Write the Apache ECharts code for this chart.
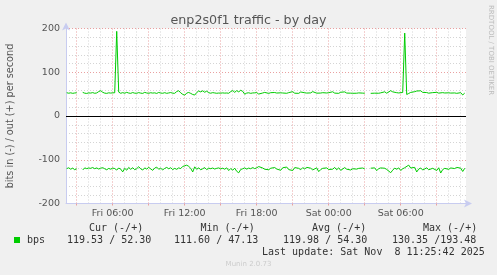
<!DOCTYPE html>
<html><head><meta charset="utf-8">
<script src="https://cdn.jsdelivr.net/npm/echarts@6/dist/echarts.min.js"></script>
<style>html,body{margin:0;padding:0;background:#f0f0f0}#c{width:497px;height:275px}</style>
</head><body><div id="c"></div>
<script>
// time in hours from Fri 00:00; samples every 10 minutes starting Fri 02:10
const startHour = 2 + 10/60;
const stepHour = 10/60;
const xMin = 2.108, xMax = 35.441;
const labelHours = [6, 12, 18, 24, 30];
const labelTexts = ['Fri 06:00', 'Fri 12:00', 'Fri 18:00', 'Sat 00:00', 'Sat 06:00'];
const majorHours = [3, 6, 9, 12, 15, 18, 21, 24, 27, 30, 33];
const minorHours = [4,5,7,8,10,11,13,14,16,17,19,20,22,23,25,26,28,29,31,32,34,35];

// out (+) bits per second
const outValues = [
 53.2, 52.1, 53.0, 51.8, 52.6, 53.1, null, null, 54.0, 52.2, 51.6, 52.8,
 52.4, 53.5, 51.9, 52.7, 55.8, 57.9, 54.2, 52.3, 51.7, 53.0, 52.4, 52.9,
 53.1, 193.48, 54.6, 51.9, 53.4, 52.0, 54.1, 52.5, 51.8, 53.6, 52.2, 51.9,
 53.5, 52.3, 51.7, 54.0, 52.6, 51.9, 53.2, 52.4, 52.9, 51.6, 53.8, 52.5,
 52.0, 53.3, 51.8, 52.7, 53.6, 52.1, 51.9, 55.9, 57.8, 53.0, 49.5, 47.6,
 52.4, 53.8, 51.7, 49.2, 47.9, 53.6, 57.2, 55.1, 57.6, 54.3, 56.8, 53.2,
 52.1, 53.4, 52.7, 51.9, 52.5, 52.2, 52.8, 52.3, 52.6, 52.0, 55.7, 58.2,
 54.1, 57.9, 55.2, 58.8, 56.3, 49.8, 52.4, 53.1, 51.8, 52.7, 52.9, 53.5,
 50.2, 47.3, 52.6, 53.9, 52.4, 51.7, 53.3, 52.0, 53.7, 52.5, 51.8, 53.0,
 52.6, 54.5, 51.9, 53.4, 52.3, 55.6, 52.1, 53.5, 51.8, 54.9, 52.7, 53.1,
 52.4, 54.1, 52.8, 55.7, 53.0, 52.2, 54.8, 52.5, 53.3, 51.9, 52.6, 53.2,
 52.7, 55.4, 52.3, 53.6, 51.8, 54.3, 52.9, 55.1, 52.4, 53.0, 52.2, 51.9,
 53.4, 52.1, 52.8, 53.5, 52.3, 52.0, null, null, 51.8, 52.4, 52.2, 52.6,
 52.0, 52.9, 53.4, 55.3, 52.1, 53.8, 57.9, 55.2, 52.4, 53.3, 52.7, 54.6,
 53.8, 189.5, 49.2, 51.5, 53.9, 52.4, 55.6, 57.1, 55.3, 57.6, 54.0, 56.9,
 53.6, 52.2, 55.5, 53.4, 52.0, 54.1, 52.3, 51.9, 53.4, 52.6, 52.1, 53.0,
 52.4, 53.1, 52.7, 51.8, 52.9, 53.3, 48.1, 52.30
];
// in (-) bits per second, drawn negated
const inValues = [
 -120.2, -118.4, -121.6, -119.1, -122.8, -120.5, null, null, -123.4, -118.6, -120.3, -118.9,
 -119.6, -117.8, -120.4, -118.7, -121.2, -119.3, -118.1, -120.6, -122.9, -119.8, -121.5, -119.2,
 -120.1, -123.6, -118.9, -121.4, -127.8, -119.5, -123.9, -117.6, -121.8, -118.2, -122.7, -120.4,
 -115.9, -120.8, -123.5, -118.6, -121.3, -117.4, -120.9, -124.2, -119.1, -116.8, -121.7, -119.4,
 -123.1, -119.8, -117.5, -120.6, -118.3, -122.4, -119.7, -121.9, -118.6, -120.2, -115.3, -113.8,
 -112.4, -115.1, -119.6, -127.9, -116.2, -121.8, -118.4, -123.1, -120.5, -117.9, -122.6, -119.3,
 -120.4, -118.9, -121.2, -119.6, -118.7, -120.8, -119.3, -121.6, -118.5, -124.7, -120.1, -123.8,
 -119.2, -126.4, -129.8, -122.3, -120.6, -118.7, -121.4, -119.1, -120.5, -117.8, -120.3, -118.4,
 -115.6, -111.6, -118.9, -121.7, -117.5, -122.8, -119.4, -123.6, -117.8, -121.2, -119.7, -124.1,
 -118.3, -121.9, -116.7, -122.5, -119.2, -124.6, -117.9, -121.3, -119.6, -122.8, -118.1, -120.9,
 -117.4, -121.6, -119.3, -123.2, -120.1, -118.5, -127.1, -122.4, -119.6, -121.8, -118.7, -122.3,
 -119.8, -121.5, -117.6, -122.9, -118.4, -124.3, -120.2, -117.9, -121.6, -119.1, -123.4, -120.5,
 -118.2, -121.4, -119.7, -122.6, -118.9, -120.8, null, null, -119.3, -121.1, -118.6, -124.9,
 -120.3, -118.7, -121.5, -119.4, -122.2, -117.9, -129.6, -123.8, -119.2, -121.7, -118.6, -124.4,
 -120.7, -118.2, -122.4, -112.3, -118.9, -121.6, -117.4, -127.9, -121.3, -118.8, -123.5, -120.6,
 -118.4, -122.9, -126.7, -119.5, -121.8, -124.6, -118.3, -130.35, -122.4, -119.7, -117.6, -121.9,
 -118.8, -122.3, -120.1, -117.5, -121.4, -119.2, -126.8, -119.53
];

// legend statistics [in, out]
const curStat = [119.53, 52.30];
const minStat = [111.60, 47.13];
const avgStat = [119.98, 54.30];
const maxStat = [130.35, 193.48];
const statHeaders = ['Cur (-/+)', 'Min (-/+)', 'Avg (-/+)', 'Max (-/+)'];
const seriesName = 'bps';
const lastUpdate = 'Last update: Sat Nov  8 11:25:42 2025';
const titleText = 'enp2s0f1 traffic - by day';
const yName = 'bits in (-) / out (+) per second';

const toPairs = arr => arr.map((v, i) => [startHour + i * stepHour, v]);
const fmt = p => p[0].toFixed(2).padStart(6) + ' /' + p[1].toFixed(2).padStart(6);

const RED = '#e9a0a0', GREY = '#d4d4d4', AX = '#c8ccf0', GREEN = '#00cc00';
const mono = 'DejaVu Sans Mono';
const txt = (x, y, s, extra) => Object.assign({
  type: 'text', x, y,
  style: Object.assign({ text: s, font: '10px "' + mono + '"', fill: '#333', textVerticalAlign: 'middle' }, extra || {})
});

const chart = echarts.init(document.getElementById('c'), null, { renderer: 'canvas' });
chart.setOption({
  animation: false,
  backgroundColor: '#f0f0f0',
  title: {
    text: titleText, left: 'center', top: 9,
    textStyle: { fontFamily: 'DejaVu Sans', fontSize: 12.7, fontWeight: 'normal', color: '#555' }
  },
  grid: { left: 66, top: 28.5, width: 400, height: 175, show: true, backgroundColor: '#fff', borderWidth: 0,
          containLabel: false, outerBoundsMode: 'none' },
  xAxis: [{
    type: 'value', min: xMin, max: xMax,
    axisLine: { show: true, onZero: false, lineStyle: { color: AX, width: 1 }, symbol: ['none', 'arrow'], symbolSize: [6, 8], symbolOffset: [0, 6] },
    axisTick: { show: true, length: 2, customValues: majorHours, lineStyle: { color: RED } },
    axisLabel: {
      customValues: labelHours, margin: 5, fontSize: 9.5, fontFamily: 'DejaVu Sans', color: '#555',
      formatter: v => labelTexts[labelHours.indexOf(Math.round(v))] || ''
    },
    splitLine: { show: true, lineStyle: { color: RED, type: [1, 2], width: 1 } }
  }, {
    type: 'value', min: xMin, max: xMax, position: 'top',
    axisLine: { show: false, onZero: false }, axisLabel: { show: false },
    axisTick: { show: false, customValues: minorHours },
    splitLine: { show: true, lineStyle: { color: GREY, type: [1, 2], width: 1 } }
  }],
  yAxis: {
    type: 'value', min: -200, max: 200, interval: 100,
    name: yName, nameLocation: 'middle', nameGap: 51, nameRotate: 90,
    nameTextStyle: { fontFamily: 'DejaVu Sans', fontSize: 9.7, color: '#555' },
    axisLine: { show: true, onZero: false, lineStyle: { color: AX }, symbol: ['none', 'arrow'], symbolSize: [6, 8], symbolOffset: [0, 6] },
    axisTick: { show: false },
    axisLabel: { margin: 6, fontSize: 9.5, fontFamily: 'DejaVu Sans', color: '#555' },
    splitLine: { show: true, lineStyle: { color: RED, type: [1, 2] } },
    minorTick: { show: false, splitNumber: 5 },
    minorSplitLine: { show: true, lineStyle: { color: GREY, type: [1, 2] } }
  },
  series: [{
    name: 'out', type: 'line', data: toPairs(outValues), showSymbol: false, symbol: 'none',
    connectNulls: false, lineStyle: { color: GREEN, width: 1 }, itemStyle: { color: GREEN }, z: 3,
    markLine: {
      silent: true, symbol: 'none', label: { show: false },
      lineStyle: { color: '#000', type: 'solid', width: 1 },
      data: [{ yAxis: 0 }]
    }
  }, {
    name: 'in', type: 'line', data: toPairs(inValues), showSymbol: false, symbol: 'none',
    connectNulls: false, lineStyle: { color: GREEN, width: 1 }, itemStyle: { color: GREEN }, z: 3
  }],
  graphic: [
    { type: 'text', x: 491, y: 5, rotation: -Math.PI / 2,
      style: { text: 'RRDTOOL / TOBI OETIKER', font: '7px "DejaVu Sans"', fill: '#bbb', textVerticalAlign: 'middle' } },
    txt(89, 228, statHeaders[0]),
    txt(200.5, 228, statHeaders[1]),
    txt(312, 228, statHeaders[2]),
    txt(423, 228, statHeaders[3]),
    { type: 'rect', shape: { x: 14, y: 237, width: 6, height: 6 }, style: { fill: GREEN } },
    txt(27, 240, seriesName),
    txt(67, 240, fmt(curStat)),
    txt(174, 240, fmt(minStat)),
    txt(283, 240, fmt(avgStat)),
    txt(392, 240, fmt(maxStat)),
    txt(262, 252, lastUpdate),
    { type: 'text', x: 248.5, y: 264, style: { text: 'Munin 2.0.73', font: '7px "DejaVu Sans"', fill: '#ccc', textAlign: 'center', textVerticalAlign: 'middle' } }
  ]
});
</script></body></html>
